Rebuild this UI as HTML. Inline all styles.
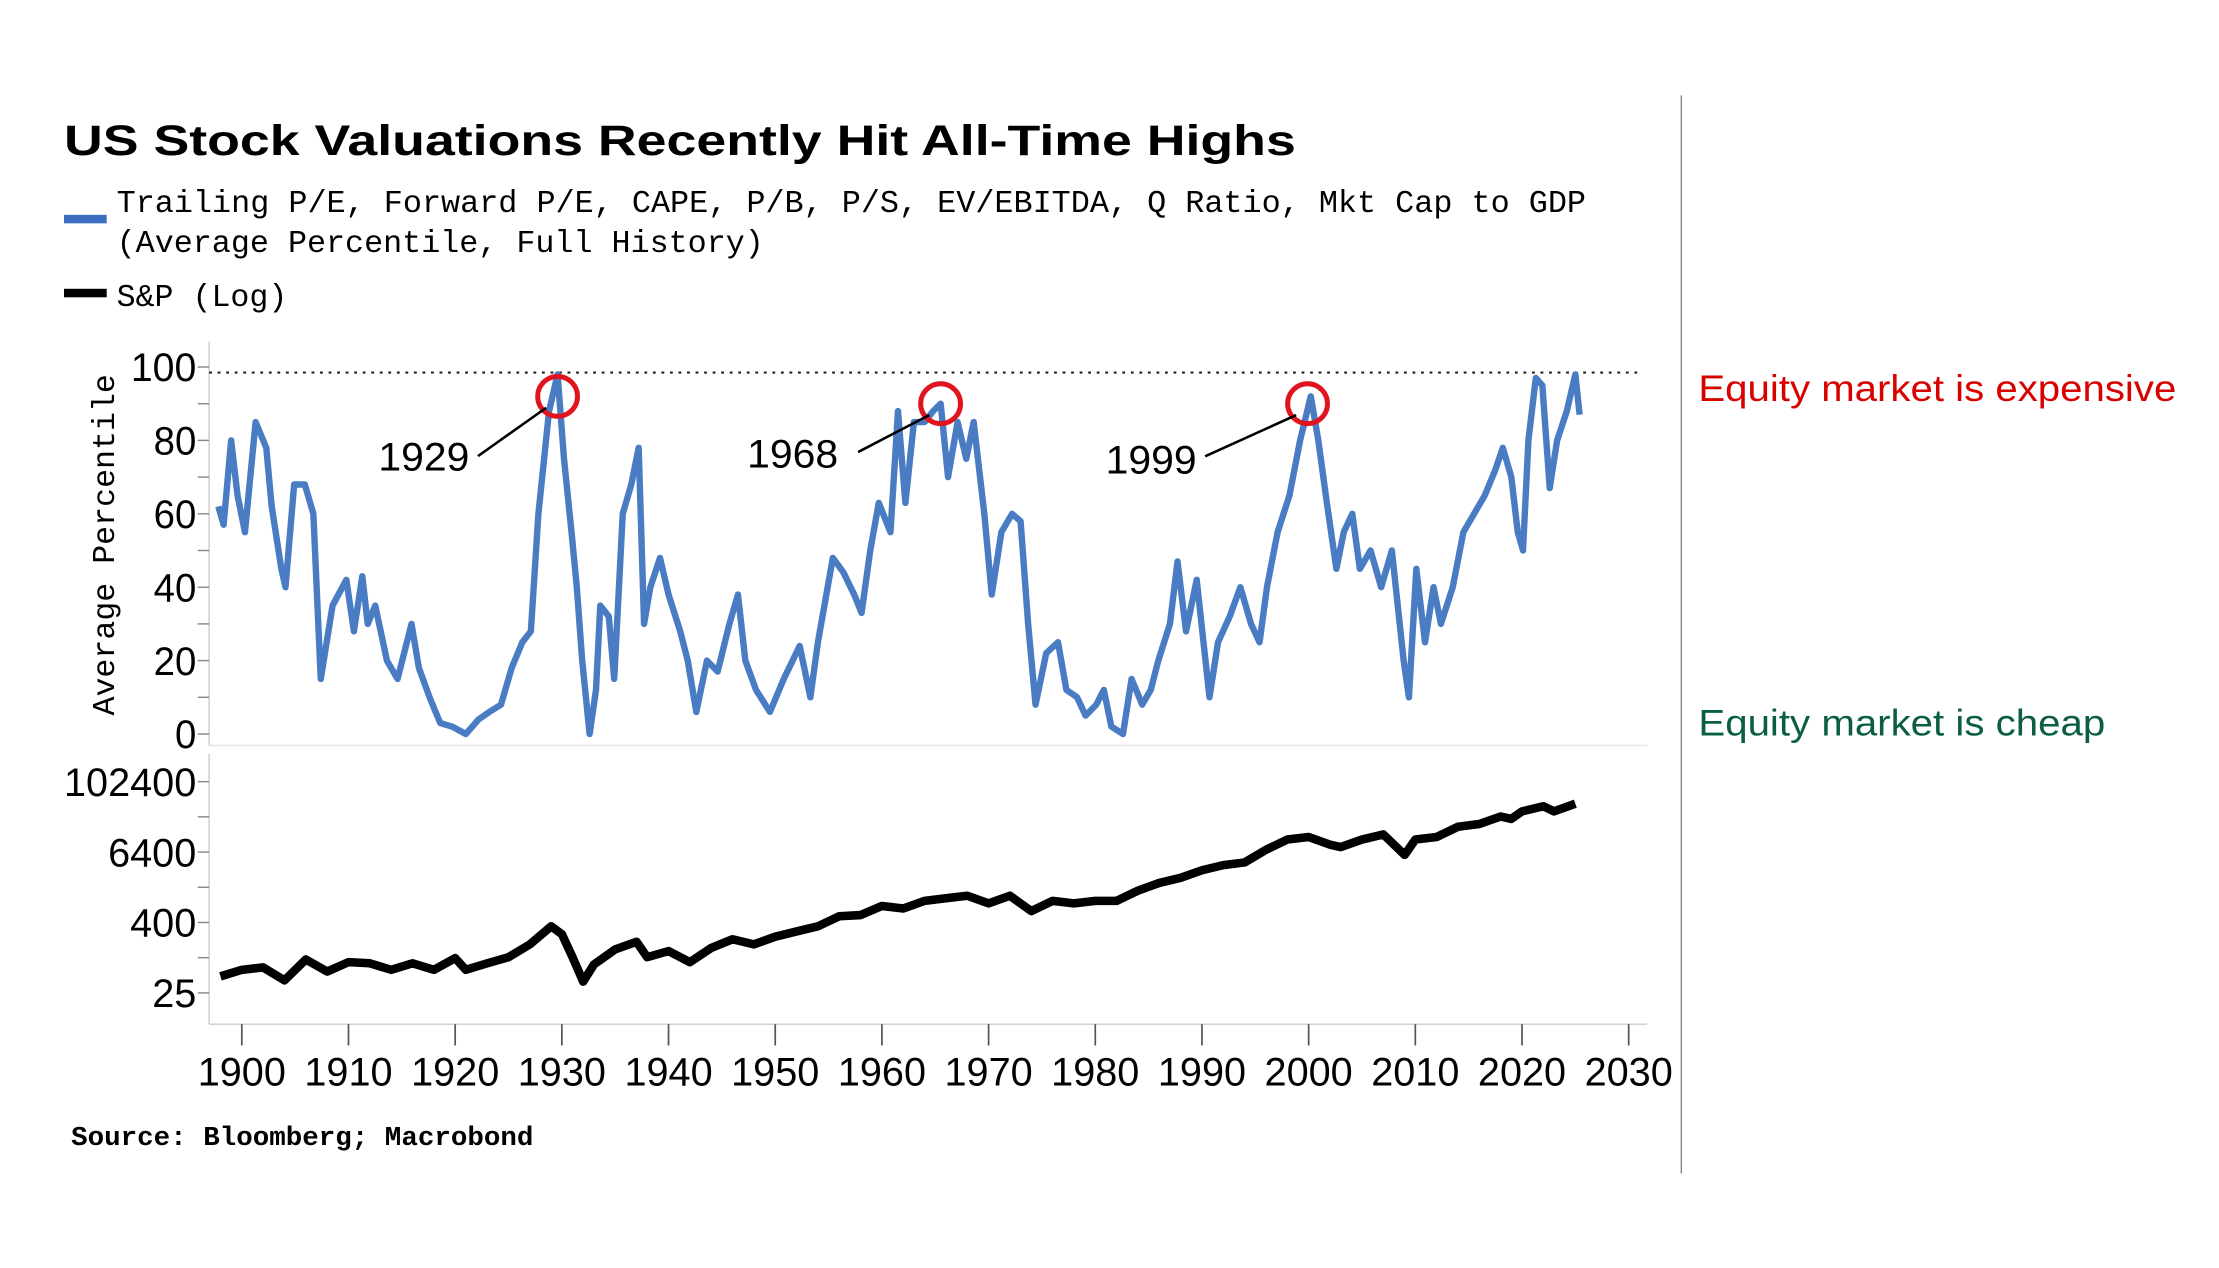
<!DOCTYPE html>
<html><head><meta charset="utf-8"><style>
html,body{margin:0;padding:0;background:#fff;width:2219px;height:1268px;overflow:hidden}
svg text{font-family:"Liberation Sans",sans-serif}
.mono{font-family:"Liberation Mono",monospace}
</style></head><body>
<svg id="chart" width="2219" height="1268" viewBox="0 0 1560 891.4" xmlns="http://www.w3.org/2000/svg">
<rect width="1560" height="891.4" fill="#fff"/>
<text x="45" y="109" font-size="30" font-weight="bold" textLength="866" lengthAdjust="spacingAndGlyphs">US Stock Valuations Recently Hit All-Time Highs</text>
<rect x="45" y="151" width="30" height="6" fill="#3d6fc0"/>
<text class="mono" x="82" y="149" font-size="22" textLength="1033" lengthAdjust="spacingAndGlyphs">Trailing P/E, Forward P/E, CAPE, P/B, P/S, EV/EBITDA, Q Ratio, Mkt Cap to GDP</text>
<text class="mono" x="82" y="177" font-size="22" textLength="455" lengthAdjust="spacingAndGlyphs">(Average Percentile, Full History)</text>
<rect x="45" y="203" width="30" height="6" fill="#000"/>
<text class="mono" x="82" y="215" font-size="22" textLength="120" lengthAdjust="spacingAndGlyphs">S&amp;P (Log)</text>
<line x1="1182" y1="67" x2="1182" y2="825" stroke="#888" stroke-width="1"/>
<text x="1194" y="282" font-size="26" fill="#d90000" textLength="336" lengthAdjust="spacingAndGlyphs">Equity market is expensive</text>
<text x="1194" y="517" font-size="26" fill="#0b5e45" textLength="286" lengthAdjust="spacingAndGlyphs">Equity market is cheap</text>
<text class="mono" x="50" y="805" font-size="19" font-weight="bold" textLength="325" lengthAdjust="spacingAndGlyphs">Source: Bloomberg; Macrobond</text>
<text class="mono" transform="translate(80,383) rotate(-90)" text-anchor="middle" font-size="22" textLength="240" lengthAdjust="spacingAndGlyphs">Average Percentile</text>
<g id="axes"></g>
<g id="marks"></g>
<g id="annot"></g>
</svg>
<script>
const pctYears=[1897.8,1898.3,1899,1899.6,1900.3,1901.3,1902.3,1902.8,1903.7,1904.1,1904.9,1905.9,1906.7,1907.4,1908.5,1909.8,1910.5,1911.3,1911.8,1912.5,1913.6,1914.6,1915.9,1916.6,1917.6,1918.6,1919.7,1921,1922.2,1923.2,1924.3,1925.3,1926.3,1927.1,1927.8,1928.8,1929.6,1930.2,1930.9,1931.4,1931.9,1932.6,1933.2,1933.6,1934.4,1934.9,1935.7,1936.5,1937.2,1937.7,1938.3,1939.2,1940,1941.1,1941.8,1942.6,1943.6,1944.6,1945.7,1946.5,1947.2,1948.2,1949.5,1950.8,1952.3,1953.3,1954,1955.4,1956.4,1957.4,1958.1,1958.9,1959.7,1960.8,1961.5,1962.2,1963,1964,1964.8,1965.5,1966.2,1967.1,1967.9,1968.6,1969.6,1970.3,1971.2,1972.2,1973,1973.7,1974.4,1975.4,1976.5,1977.3,1978.3,1979.1,1980.1,1980.8,1981.5,1982.6,1983.4,1984.4,1985.2,1985.9,1987,1987.7,1988.5,1989.5,1990.7,1991.5,1992.6,1993.6,1994.6,1995.4,1996.1,1997.1,1998.2,1999.2,2000.2,2000.9,2001.7,2002.6,2003.3,2004.1,2004.8,2005.8,2006.8,2007.8,2008.9,2009.4,2010.1,2010.9,2011.7,2012.4,2013.5,2014.5,2015.5,2016.5,2017.5,2018.2,2019,2019.6,2020.1,2020.6,2021.3,2021.9,2022.6,2023.3,2024.2,2025,2025.4];
const pctValues=[62,57,80,65,55,85,78,62,45,40,68,68,60,15,35,42,28,43,30,35,20,15,30,18,10,3,2,0,4,6,8,18,25,28,60,88,98,75,55,40,20,0,12,35,32,15,60,68,78,30,40,48,38,28,20,6,20,17,30,38,20,12,6,15,24,10,25,48,44,38,33,50,63,55,88,63,85,85,88,90,70,85,75,85,60,38,55,60,58,30,8,22,25,12,10,5,8,12,2,0,15,8,12,20,30,47,28,42,10,25,32,40,30,25,40,55,65,80,92,80,63,45,55,60,45,50,40,50,20,10,45,25,40,30,40,55,60,65,72,78,70,55,50,80,97,95,67,80,88,98,87];
const spYears=[1898,1900,1902,1904,1906,1908,1910,1912,1914,1916,1918,1920,1921,1923,1925,1927,1929,1930,1931,1932,1933,1935,1937,1938,1940,1942,1944,1946,1948,1950,1952,1954,1956,1958,1960,1962,1964,1966,1968,1970,1972,1974,1976,1978,1980,1982,1984,1986,1988,1990,1992,1994,1996,1998,2000,2002,2003,2005,2007,2009,2010,2012,2014,2016,2018,2019,2020,2022,2023,2025];
const spValues=[48,62,68,41,93,58,84,80,62,80,62,98,62,80,102,169,343,253,102,39,76,139,187,102,130,84,147,207,169,229,281,343,513,534,767,693,938,1035,1147,847,1147,627,938,847,938,938,1402,1900,2325,3130,3830,4250,7000,10475,11600,8575,7775,10475,12800,5725,10475,11600,17375,19250,25950,23550,31750,38800,31750,43050];
const xTicks=[1900,1910,1920,1930,1940,1950,1960,1970,1980,1990,2000,2010,2020,2030];
const pctTicks=[0,20,40,60,80,100];
const logTicks=[25,400,6400,102400];
const highlightYears=[1929.6,1965.5,1999.9];
const highlightVals=[92,90,90];
const highlightLabels=["1929","1968","1999"];
const thresholdVal=98.5;

const NS="http://www.w3.org/2000/svg";
const X0=147, XR=1158;
const xs=y=>170+(y-1900)*7.5;
const yP=v=>516-(v/100)*258;
const yL=v=>698-49.5*Math.log(v/25)/Math.log(16);
function mk(tag,attrs,parent,text){const e=document.createElementNS(NS,tag);for(const k in attrs)e.setAttribute(k,attrs[k]);if(text!==undefined)e.textContent=text;parent.appendChild(e);return e;}
const ax=document.getElementById('axes'), mg=document.getElementById('marks'), an=document.getElementById('annot');

// top panel axis
let l=mk('line',{x1:X0,y1:240,x2:X0,y2:524,stroke:'#ccc','stroke-width':1},ax);


l=mk('line',{x1:X0,y1:524,x2:XR,y2:524,stroke:'#e6e6e6','stroke-width':1},ax);


for(let v=0;v<=100;v+=10){const t=mk('line',{x1:X0-8,y1:yP(v),x2:X0,y2:yP(v),stroke:'#888','stroke-width':1},ax);

}
pctTicks.forEach(v=>{const t=mk('text',{x:138,y:yP(v)+10,'text-anchor':'end','font-size':28,textLength:(v===100?46:v===0?15:30),lengthAdjust:'spacingAndGlyphs'},ax,String(v));

});
l=mk('line',{x1:X0,y1:yP(thresholdVal),x2:1155,y2:yP(thresholdVal),stroke:'#222','stroke-width':1.5,'stroke-dasharray':'2 4'},ax);



// bottom panel axis
l=mk('line',{x1:X0,y1:530,x2:X0,y2:720,stroke:'#ccc','stroke-width':1},ax);


l=mk('line',{x1:X0,y1:720,x2:XR,y2:720,stroke:'#ccc','stroke-width':1},ax);


[25,100,400,1600,6400,25600,102400].forEach(v=>{const t=mk('line',{x1:X0-8,y1:yL(v),x2:X0,y2:yL(v),stroke:'#888','stroke-width':1},ax);

});
logTicks.forEach(v=>{const s=String(v);const t=mk('text',{x:138,y:yL(v)+10,'text-anchor':'end','font-size':28,textLength:s.length*15.5,lengthAdjust:'spacingAndGlyphs'},ax,s);

});
xTicks.forEach(y=>{const t=mk('line',{x1:xs(y),y1:720,x2:xs(y),y2:735,stroke:'#555','stroke-width':1.2},ax);


const tl=mk('text',{x:xs(y),y:763,'text-anchor':'middle','font-size':28,textLength:62,lengthAdjust:'spacingAndGlyphs'},ax,String(y));

});

// series
let d=pctYears.map((y,i)=>(i?'L':'M')+xs(y).toFixed(1)+','+yP(pctValues[i]).toFixed(1)).join('');
let p=mk('path',{d:d,fill:'none',stroke:'#4a7cc4','stroke-width':4.5,'stroke-linejoin':'round'},mg);


d=spYears.map((y,i)=>(i?'L':'M')+xs(y).toFixed(1)+','+yL(spValues[i]).toFixed(1)).join('');
p=mk('path',{d:d,fill:'none',stroke:'#000','stroke-width':6,'stroke-linejoin':'round'},mg);



// annotations
const labelOff=[[-126,52,-56,42],[-136,45,-58,34],[-142,49,-72,37]];
highlightYears.forEach((y,i)=>{const cx=xs(y), cy=yP(highlightVals[i]);
const c=mk('circle',{cx:cx,cy:cy,r:14,fill:'none',stroke:'#e0141e','stroke-width':3.5},an);


const o=labelOff[i];
const ln=mk('line',{x1:cx+o[2],y1:cy+o[3],x2:cx-8,y2:cy+8,stroke:'#000','stroke-width':1.8},an);


const t=mk('text',{x:cx+o[0],y:cy+o[1],'font-size':28,textLength:64,lengthAdjust:'spacingAndGlyphs'},an,highlightLabels[i]);

});
</script>
</body></html>
